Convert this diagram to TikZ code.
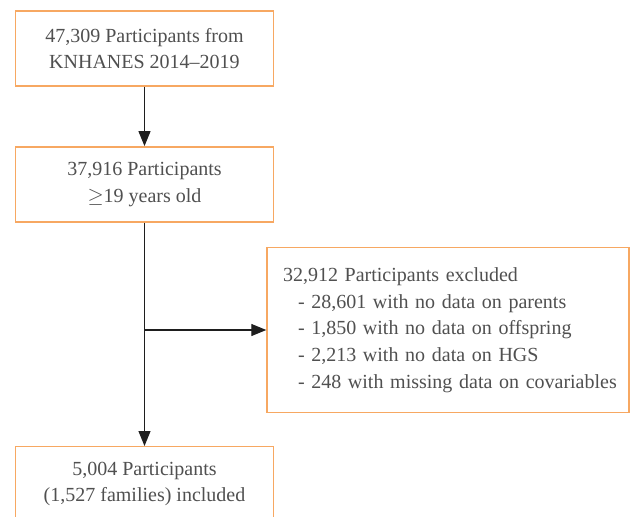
\documentclass[tikz,border=0pt]{standalone}
\usepackage{fontspec}
\setmainfont{Liberation Serif}
\usetikzlibrary{arrows.meta}
\definecolor{boxorange}{RGB}{247,168,98}
\definecolor{txtgray}{RGB}{80,80,80}
\definecolor{linegray}{RGB}{30,30,30}
\begin{document}
\begin{tikzpicture}[x=1pt,y=-1pt,
  flowbox/.style={draw=boxorange, line width=1.4pt, text=txtgray, align=center,
    minimum width=257.6pt, minimum height=75pt, inner sep=0pt,
    font=\fontsize{20}{26.5}\selectfont},
  exbox/.style={draw=boxorange, line width=1.4pt, text=txtgray, align=left,
    text width=330pt, minimum height=165.4pt, inner xsep=16pt, inner ysep=0pt,
    font=\fontsize{20}{26.7}\selectfont},
  conn/.style={draw=linegray, line width=1.1pt, -{Triangle[length=15pt,width=12pt]}}]
\useasboundingbox (0,0) rectangle (635,517);
\clip (0,0) rectangle (635,517);
\fill[white] (0,0) rectangle (635,517);
\node[flowbox] (b1) at (144.5,48.5) {47,309 Participants from\\KNHANES 2014--2019};
\node[flowbox] (b2) at (144.5,184.3) {37,916 Participants\\$\geq$19 years old};
\node[flowbox] (b3) at (144.5,484.2) {5,004 Participants\\(1,527 families) included};
\node[exbox] (ex) at (448,330) {\mbox{32,912 Participants excluded}\\
\mbox{\hspace*{15pt}- 28,601 with no data on parents}\\
\mbox{\hspace*{15pt}- 1,850 with no data on offspring}\\
\mbox{\hspace*{15pt}- 2,213 with no data on HGS}\\
\mbox{\hspace*{15pt}- 248 with missing data on covariables}};
\coordinate (j) at (b2.south |- ex.west);
\draw[conn] (b1) -- (b2);
\draw[conn] (b2) -- (b3);
\draw[conn] (j) -- (ex.west);
\end{tikzpicture}
\end{document}
